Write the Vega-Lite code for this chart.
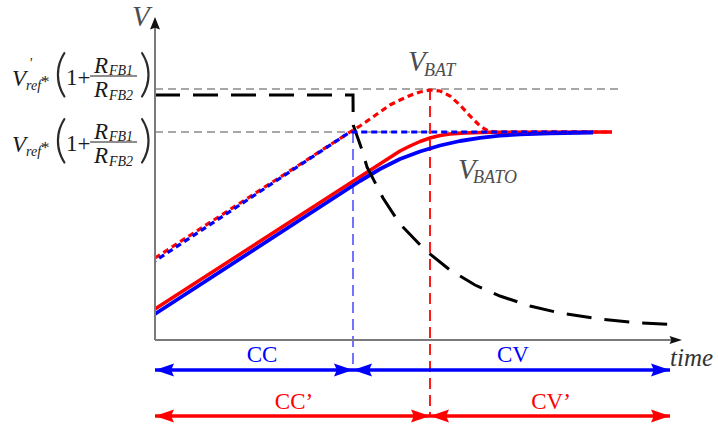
{
  "$schema": "https://vega.github.io/schema/vega-lite/v6.json",
  "width": 718,
  "height": 430,
  "autosize": {"type": "fit", "contains": "padding"},
  "padding": 0,
  "background": "white",
  "config": {"view": {"stroke": null}, "text": {"font": "Liberation Serif"}},
  "resolve": {"scale": {"color": "independent", "shape": "independent"}},
  "datasets": {
    "traces": [
      {"trace": "ichg", "t": 0, "v": 24.5},
      {"trace": "ichg", "t": 19.8, "v": 24.5},
      {"trace": "ichg", "t": 19.82, "v": 21.5},
      {"trace": "ichg", "t": 20.7, "v": 19.0},
      {"trace": "ichg", "t": 21.2, "v": 17.3},
      {"trace": "ichg", "t": 22.8, "v": 14.2},
      {"trace": "ichg", "t": 24.5, "v": 11.6},
      {"trace": "ichg", "t": 27.0, "v": 9.0},
      {"trace": "ichg", "t": 29.5, "v": 7.0},
      {"trace": "ichg", "t": 32.0, "v": 5.5},
      {"trace": "ichg", "t": 34.5, "v": 4.4},
      {"trace": "ichg", "t": 37.5, "v": 3.4},
      {"trace": "ichg", "t": 40.5, "v": 2.7},
      {"trace": "ichg", "t": 44.5, "v": 2.1},
      {"trace": "ichg", "t": 48.5, "v": 1.7},
      {"trace": "ichg", "t": 52.5, "v": 1.5},

      {"trace": "vbat_ideal", "t": 0, "v": 8.2},
      {"trace": "vbat_ideal", "t": 19.5, "v": 20.8},
      {"trace": "vbat_ideal", "t": 20.5, "v": 21.4},
      {"trace": "vbat_ideal", "t": 21.5, "v": 22.1},
      {"trace": "vbat_ideal", "t": 22.5, "v": 22.8},
      {"trace": "vbat_ideal", "t": 23.5, "v": 23.5},
      {"trace": "vbat_ideal", "t": 24.5, "v": 24.0},
      {"trace": "vbat_ideal", "t": 25.5, "v": 24.45},
      {"trace": "vbat_ideal", "t": 26.5, "v": 24.8},
      {"trace": "vbat_ideal", "t": 27.5, "v": 25.0},
      {"trace": "vbat_ideal", "t": 28.5, "v": 24.9},
      {"trace": "vbat_ideal", "t": 29.5, "v": 24.4},
      {"trace": "vbat_ideal", "t": 30.5, "v": 23.5},
      {"trace": "vbat_ideal", "t": 31.5, "v": 22.4},
      {"trace": "vbat_ideal", "t": 32.5, "v": 21.4},
      {"trace": "vbat_ideal", "t": 33.3, "v": 20.9},
      {"trace": "vbat_ideal", "t": 34.1, "v": 20.8},
      {"trace": "vbat_ideal", "t": 45.7, "v": 20.8},

      {"trace": "vbato_ideal", "t": 0, "v": 7.9},
      {"trace": "vbato_ideal", "t": 19.5, "v": 20.8},
      {"trace": "vbato_ideal", "t": 43.8, "v": 20.8},

      {"trace": "vbat", "t": 0, "v": 3.1},
      {"trace": "vbat", "t": 24.5, "v": 18.9},
      {"trace": "vbat", "t": 25.5, "v": 19.4},
      {"trace": "vbat", "t": 26.5, "v": 19.85},
      {"trace": "vbat", "t": 27.5, "v": 20.2},
      {"trace": "vbat", "t": 28.5, "v": 20.45},
      {"trace": "vbat", "t": 29.5, "v": 20.6},
      {"trace": "vbat", "t": 31.0, "v": 20.7},
      {"trace": "vbat", "t": 33.5, "v": 20.77},
      {"trace": "vbat", "t": 45.7, "v": 20.8},

      {"trace": "vbato", "t": 0, "v": 2.6},
      {"trace": "vbato", "t": 20.5, "v": 15.9},
      {"trace": "vbato", "t": 22.5, "v": 17.1},
      {"trace": "vbato", "t": 24.5, "v": 18.1},
      {"trace": "vbato", "t": 26.5, "v": 18.85},
      {"trace": "vbato", "t": 28.5, "v": 19.45},
      {"trace": "vbato", "t": 30.5, "v": 19.9},
      {"trace": "vbato", "t": 32.5, "v": 20.22},
      {"trace": "vbato", "t": 34.5, "v": 20.43},
      {"trace": "vbato", "t": 36.5, "v": 20.56},
      {"trace": "vbato", "t": 39.5, "v": 20.67},
      {"trace": "vbato", "t": 43.8, "v": 20.75}
    ],
    "levels": [
      {"level": "Vref'", "t": 0, "t2": 46.5, "v": 25.1},
      {"level": "Vref", "t": 0, "t2": 45.5, "v": 20.8}
    ],
    "boundaries": [
      {"sense": "BATO", "t": 19.8, "v": 20.8, "v2": -3.0},
      {"sense": "BAT", "t": 27.5, "v": 25.1, "v2": -7.6}
    ],
    "axes": [
      {"axis": "time", "t": 0, "t2": 52, "v": 0, "v2": 0},
      {"axis": "V", "t": 0, "t2": 0, "v": 0, "v2": 31.5}
    ],
    "axisHeads": [
      {"dir": "up", "t": 0, "v": 32.3},
      {"dir": "right", "t": 52.7, "v": 0}
    ],
    "phases": [
      {"sense": "BATO", "phase": "CC", "t": 0, "t2": 19.8, "v": -3.0},
      {"sense": "BATO", "phase": "CV", "t": 19.8, "t2": 51.5, "v": -3.0},
      {"sense": "BAT", "phase": "CC’", "t": 0, "t2": 27.5, "v": -7.6},
      {"sense": "BAT", "phase": "CV’", "t": 27.5, "t2": 51.5, "v": -7.6}
    ],
    "phaseLabels": [
      {"sense": "BATO", "text": "CC", "t": 10.7, "v": -1.5},
      {"sense": "BATO", "text": "CV", "t": 35.8, "v": -1.5},
      {"sense": "BAT", "text": "CC’", "t": 13.9, "v": -6.2},
      {"sense": "BAT", "text": "CV’", "t": 39.6, "v": -6.2}
    ],
    "mathItalic": [
      {"text": "V", "t": -14.3, "v": 26.1},
      {"text": "R", "t": -6.1, "v": 27.4},
      {"text": "R", "t": -6.1, "v": 25.0},
      {"text": "V", "t": -14.3, "v": 19.5},
      {"text": "R", "t": -6.1, "v": 20.8},
      {"text": "R", "t": -6.1, "v": 18.4}
    ],
    "mathSub": [
      {"text": "'", "t": -12.6, "v": 27.6},
      {"text": "ref", "t": -12.9, "v": 25.4},
      {"text": "FB1", "t": -4.6, "v": 26.9},
      {"text": "FB2", "t": -4.6, "v": 24.4},
      {"text": "ref", "t": -12.9, "v": 18.8},
      {"text": "FB1", "t": -4.6, "v": 20.3},
      {"text": "FB2", "t": -4.6, "v": 17.8}
    ],
    "mathUpright": [
      {"text": "1+", "t": -8.9, "v": 26.2},
      {"text": "1+", "t": -8.9, "v": 19.6}
    ],
    "mathStar": [
      {"text": "*", "t": -11.4, "v": 25.8},
      {"text": "*", "t": -11.4, "v": 19.2}
    ],
    "mathParens": [
      {"text": "(", "t": -10.1, "v": 26.5},
      {"text": ")", "t": -1.6, "v": 26.5},
      {"text": "(", "t": -10.1, "v": 19.9},
      {"text": ")", "t": -1.6, "v": 19.9}
    ],
    "fractionBars": [
      {"t": -6.5, "t2": -1.8, "v": 26.4},
      {"t": -6.5, "t2": -1.8, "v": 19.8}
    ],
    "bigLabels": [
      {"text": "V", "t": -2.3, "v": 32.3},
      {"text": "V", "t": 25.3, "v": 27.8},
      {"text": "V", "t": 30.3, "v": 17.0}
    ],
    "subLabels": [
      {"text": "BAT", "t": 26.9, "v": 26.9},
      {"text": "BATO", "t": 31.8, "v": 16.2}
    ],
    "timeLabel": [
      {"text": "time", "t": 51.5, "v": -1.8}
    ]
  },
  "encoding": {
    "x": {"field": "t", "type": "quantitative", "scale": {"domain": [-15.5, 56.3], "nice": false, "zero": false}, "axis": null},
    "y": {"field": "v", "type": "quantitative", "scale": {"domain": [-9, 34], "nice": false, "zero": false}, "axis": null}
  },
  "layer": [
    {
      "data": {"name": "levels"},
      "mark": {"type": "rule", "stroke": "#8a8a8a", "strokeWidth": 1.5, "strokeDash": [8, 5]},
      "encoding": {"x2": {"field": "t2"}}
    },
    {
      "data": {"name": "boundaries"},
      "mark": {"type": "rule", "strokeWidth": 2, "strokeDash": [11, 6]},
      "encoding": {
        "y2": {"field": "v2"},
        "color": {"field": "sense", "type": "nominal", "scale": {"domain": ["BATO", "BAT"], "range": ["#7373ff", "#ff1a1a"]}, "legend": null}
      }
    },
    {
      "data": {"name": "traces"},
      "transform": [{"filter": "datum.trace === 'vbat'"}],
      "mark": {"type": "line", "stroke": "#ff0000", "strokeWidth": 3.5, "strokeJoin": "round"},
      "encoding": {}
    },
    {
      "data": {"name": "traces"},
      "transform": [{"filter": "datum.trace === 'vbato'"}],
      "mark": {"type": "line", "stroke": "#0000ff", "strokeWidth": 3.8, "strokeJoin": "round"},
      "encoding": {}
    },
    {
      "data": {"name": "traces"},
      "transform": [{"filter": "datum.trace === 'ichg'"}],
      "mark": {"type": "line", "stroke": "#000000", "strokeWidth": 3, "strokeDash": [25, 13]},
      "encoding": {}
    },
    {
      "data": {"name": "traces"},
      "transform": [{"filter": "datum.trace === 'vbat_ideal'"}],
      "mark": {"type": "line", "stroke": "#ff0000", "strokeWidth": 3.2, "strokeDash": [6, 4]},
      "encoding": {}
    },
    {
      "data": {"name": "traces"},
      "transform": [{"filter": "datum.trace === 'vbato_ideal'"}],
      "mark": {"type": "line", "stroke": "#0000ff", "strokeWidth": 3.2, "strokeDash": [6, 4], "strokeDashOffset": 5},
      "encoding": {}
    },
    {
      "data": {"name": "axes"},
      "mark": {"type": "rule", "stroke": "#7a7a7a", "strokeWidth": 2},
      "encoding": {"x2": {"field": "t2"}, "y2": {"field": "v2"}}
    },
    {
      "data": {"name": "axisHeads"},
      "mark": {"type": "point", "filled": true, "opacity": 1, "size": 625, "color": "#111111", "strokeWidth": 0},
      "encoding": {
        "shape": {"field": "dir", "type": "nominal", "scale": {"domain": ["up", "right"], "range": ["M0,0L-0.4,1L0,0.85L0.4,1Z", "M0,0L-1,-0.32L-0.85,0L-1,0.32Z"]}, "legend": null}
      }
    },
    {
      "data": {"name": "phases"},
      "mark": {"type": "rule", "strokeWidth": 3.5},
      "encoding": {
        "x2": {"field": "t2"},
        "color": {"field": "sense", "type": "nominal", "scale": {"domain": ["BATO", "BAT"], "range": ["#0000ff", "#ff0000"]}, "legend": null}
      }
    },
    {
      "data": {"name": "phases"},
      "mark": {"type": "point", "filled": true, "opacity": 1, "size": 1444, "strokeWidth": 0, "shape": "M0,0L1,-0.34L0.85,0L1,0.34Z"},
      "encoding": {
        "color": {"field": "sense", "type": "nominal", "scale": {"domain": ["BATO", "BAT"], "range": ["#0000ff", "#ff0000"]}, "legend": null}
      }
    },
    {
      "data": {"name": "phases"},
      "mark": {"type": "point", "filled": true, "opacity": 1, "size": 1444, "strokeWidth": 0, "shape": "M0,0L-1,-0.34L-0.85,0L-1,0.34Z"},
      "encoding": {
        "x": {"field": "t2", "type": "quantitative", "scale": {"domain": [-15.5, 56.3], "nice": false, "zero": false}, "axis": null},
        "color": {"field": "sense", "type": "nominal", "scale": {"domain": ["BATO", "BAT"], "range": ["#0000ff", "#ff0000"]}, "legend": null}
      }
    },
    {
      "data": {"name": "phaseLabels"},
      "mark": {"type": "text", "font": "Liberation Serif", "fontSize": 23, "align": "center", "baseline": "middle"},
      "encoding": {
        "text": {"field": "text"},
        "color": {"field": "sense", "type": "nominal", "scale": {"domain": ["BATO", "BAT"], "range": ["#0000ff", "#ff0000"]}, "legend": null}
      }
    },
    {
      "data": {"name": "mathItalic"},
      "mark": {"type": "text", "font": "Liberation Serif", "fontStyle": "italic", "fontSize": 23, "align": "left", "baseline": "middle", "color": "#1a1a1a"},
      "encoding": {"text": {"field": "text"}}
    },
    {
      "data": {"name": "mathSub"},
      "mark": {"type": "text", "font": "Liberation Serif", "fontStyle": "italic", "fontSize": 14, "align": "left", "baseline": "middle", "color": "#1a1a1a"},
      "encoding": {"text": {"field": "text"}}
    },
    {
      "data": {"name": "mathUpright"},
      "mark": {"type": "text", "font": "Liberation Serif", "fontSize": 23, "align": "left", "baseline": "middle", "color": "#1a1a1a"},
      "encoding": {"text": {"field": "text"}}
    },
    {
      "data": {"name": "mathStar"},
      "mark": {"type": "text", "font": "Liberation Serif", "fontSize": 17, "align": "left", "baseline": "middle", "color": "#1a1a1a"},
      "encoding": {"text": {"field": "text"}}
    },
    {
      "data": {"name": "mathParens"},
      "mark": {"type": "text", "font": "Lato", "fontWeight": 300, "fontSize": 52, "align": "left", "baseline": "middle", "color": "#2a2a2a"},
      "encoding": {"text": {"field": "text"}}
    },
    {
      "data": {"name": "fractionBars"},
      "mark": {"type": "rule", "stroke": "#1a1a1a", "strokeWidth": 1},
      "encoding": {"x2": {"field": "t2"}}
    },
    {
      "data": {"name": "bigLabels"},
      "mark": {"type": "text", "font": "Liberation Serif", "fontStyle": "italic", "fontSize": 29, "align": "left", "baseline": "middle", "color": "#4d4d4d"},
      "encoding": {"text": {"field": "text"}}
    },
    {
      "data": {"name": "subLabels"},
      "mark": {"type": "text", "font": "Liberation Serif", "fontStyle": "italic", "fontSize": 18, "align": "left", "baseline": "middle", "color": "#4d4d4d"},
      "encoding": {"text": {"field": "text"}}
    },
    {
      "data": {"name": "timeLabel"},
      "mark": {"type": "text", "font": "Liberation Serif", "fontStyle": "italic", "fontSize": 25, "align": "left", "baseline": "middle", "color": "#333333"},
      "encoding": {"text": {"field": "text"}}
    }
  ]
}
